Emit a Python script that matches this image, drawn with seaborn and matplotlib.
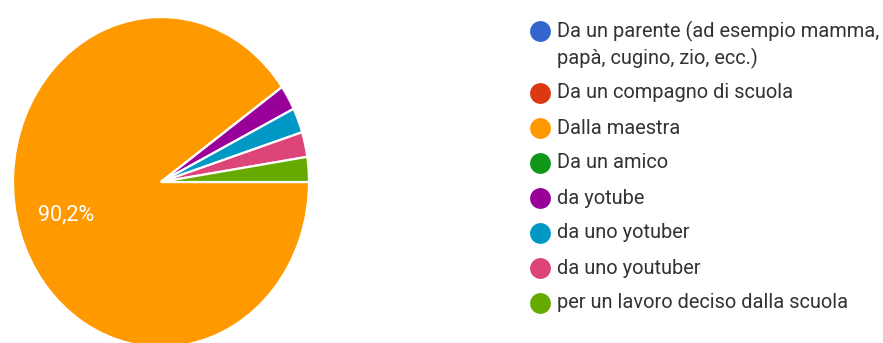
import matplotlib
matplotlib.use("Agg")
import matplotlib.pyplot as plt
import seaborn as sns

sns.set_theme(style="white")
plt.rcParams["font.family"] = ["Roboto", "DejaVu Sans"]

# Survey answers (legend order) and number of responses per answer
categories = [
    "Da un parente (ad esempio mamma,\npapà, cugino, zio, ecc.)",
    "Da un compagno di scuola",
    "Dalla maestra",
    "Da un amico",
    "da yotube",
    "da uno yotuber",
    "da uno youtuber",
    "per un lavoro deciso dalla scuola",
]
counts = [0, 0, 37, 0, 1, 1, 1, 1]
colors = ["#3366CC", "#DC3912", "#FF9900", "#109618",
          "#990099", "#0099C6", "#DD4477", "#66AA00"]

W, H, DPI = 883, 343, 100
fig = plt.figure(figsize=(W / DPI, H / DPI), dpi=DPI)
fig.patch.set_facecolor("white")

# Pie area (slightly taller than wide)
cx, cy, rx, ry = 161, 182, 148, 165
ax = fig.add_axes([(cx - rx) / W, (H - cy - ry) / H, 2 * rx / W, 2 * ry / H])

def fmt(p):
    return f"{p:.1f}%".replace(".", ",") if p > 5 else ""

wedges, texts, autotexts = ax.pie(
    counts, colors=colors, startangle=0, counterclock=False,
    autopct=fmt, pctdistance=0.67, radius=1,
    wedgeprops=dict(edgecolor="white", linewidth=1.6),
    textprops=dict(color="white", fontsize=15.5),
)
ax.set_aspect("auto")
ax.set_xlim(-1, 1)
ax.set_ylim(-1, 1)
ax.axis("off")

# Legend drawn in pixel coordinates
lax = fig.add_axes([0, 0, 1, 1])
lax.set_xlim(0, W)
lax.set_ylim(H, 0)
lax.axis("off")
y = 31
line_h = 27
row_h = 35
for lab, col in zip(categories, colors):
    lax.plot(540, y, "o", color=col, markersize=15, markeredgewidth=0)
    lines = lab.split("\n")
    for k, ln in enumerate(lines):
        lax.text(557, y + k * line_h, ln, fontsize=14.4, color="#333333",
                 va="center", ha="left")
    y += row_h + (len(lines) - 1) * line_h

fig.savefig("out.png", dpi=DPI, facecolor="white")
